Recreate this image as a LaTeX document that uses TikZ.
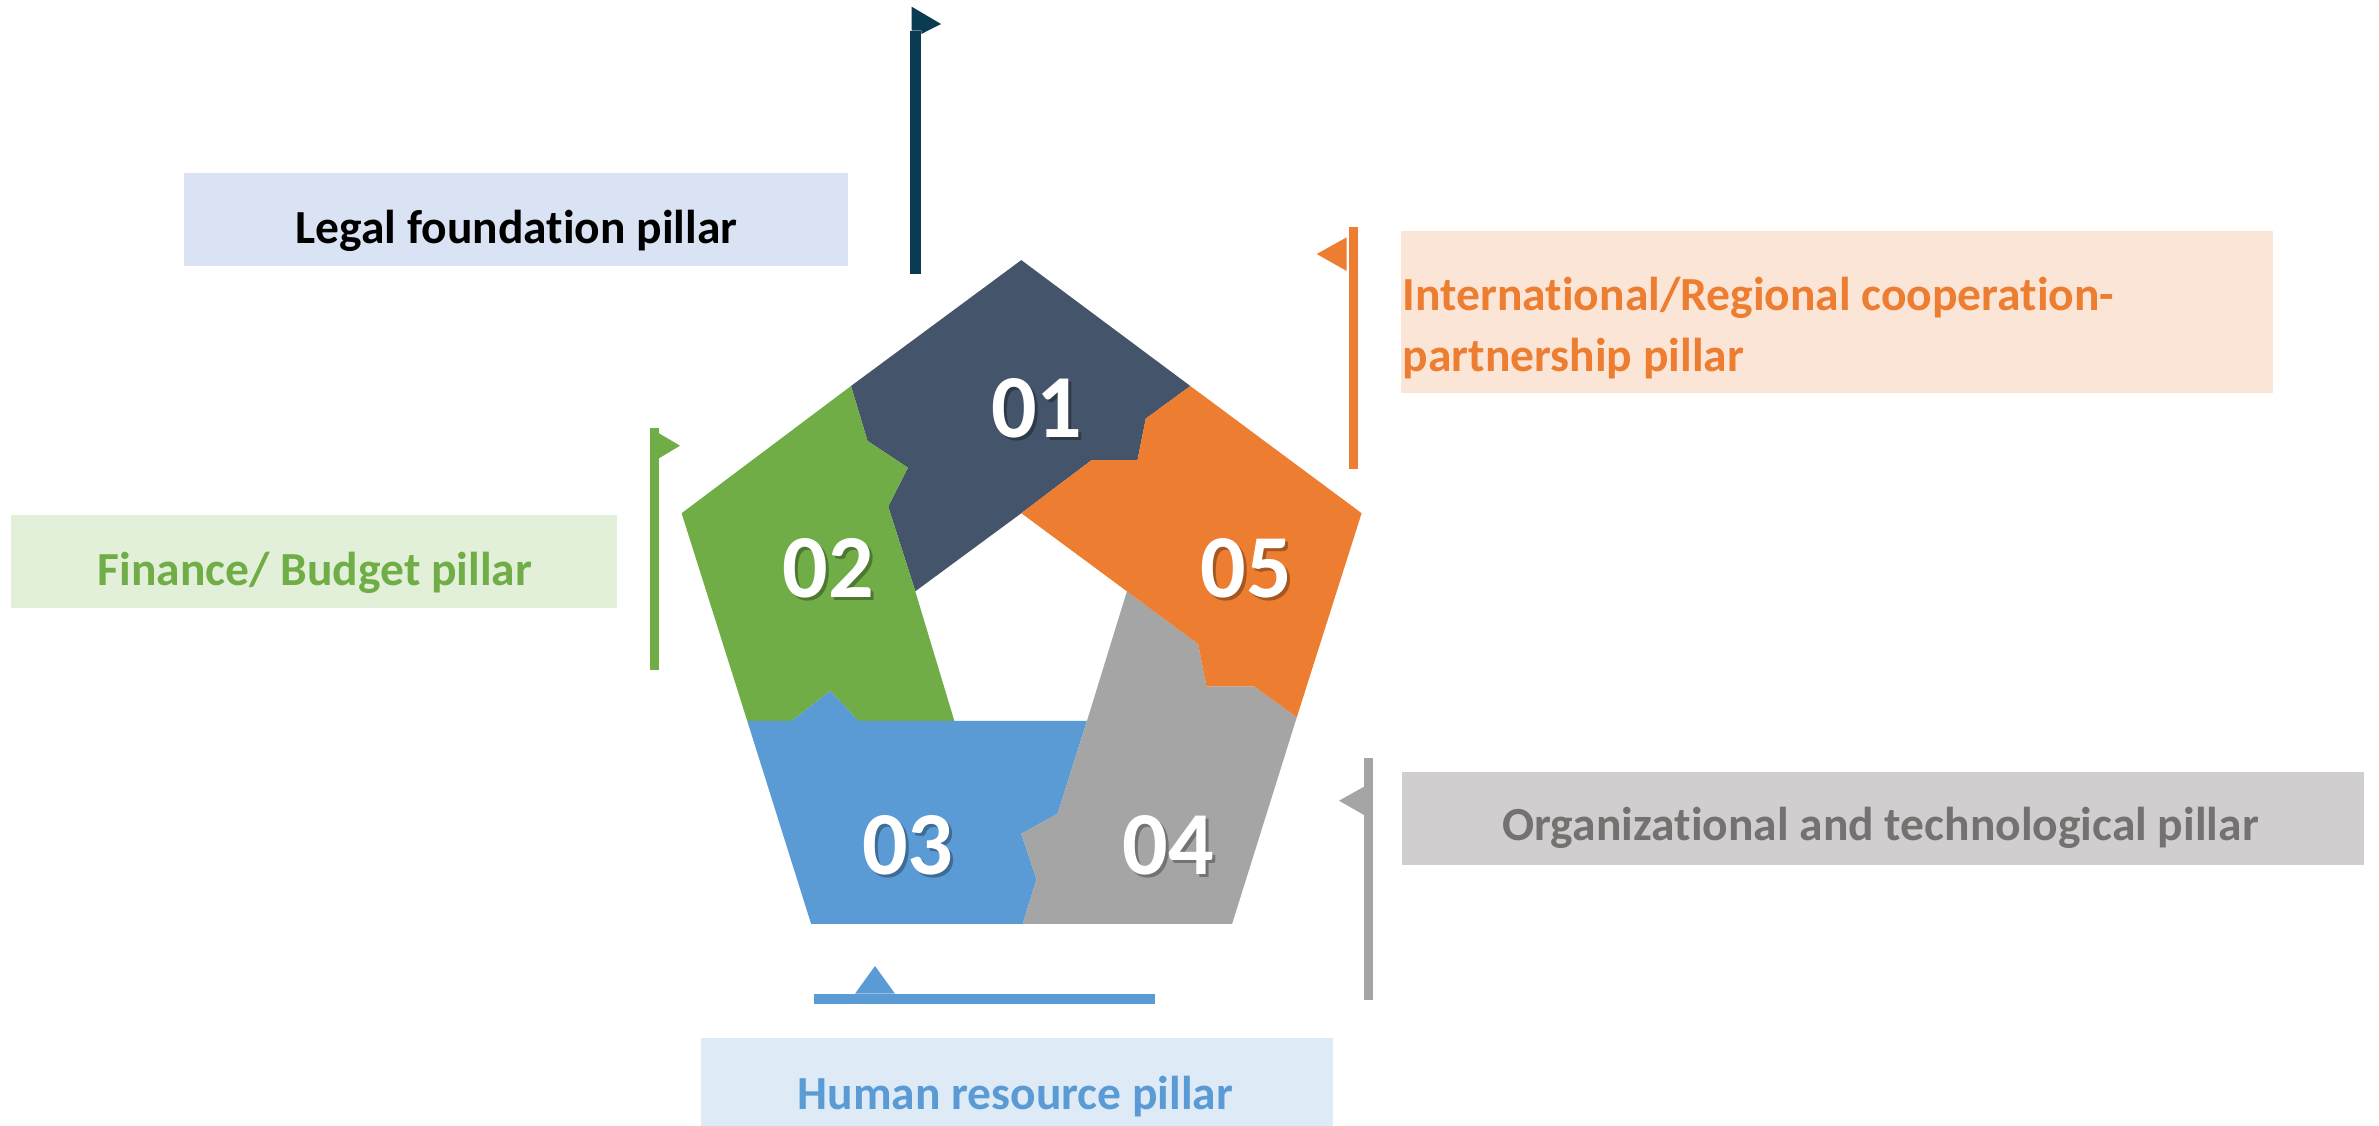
\documentclass[tikz,border=0pt]{standalone}
\usepackage{fontspec}
\setmainfont[Ligatures={NoCommon}]{Carlito}
\definecolor{cdark}{HTML}{44546A}
\definecolor{cgreen}{HTML}{70AD47}
\definecolor{cblue}{HTML}{5B9BD5}
\definecolor{cgray}{HTML}{A5A5A5}
\definecolor{corange}{HTML}{ED7D31}
\definecolor{cflag}{HTML}{0B3A53}
\definecolor{flegal}{HTML}{DAE3F3}
\definecolor{fintl}{HTML}{FBE5D6}
\definecolor{ffin}{HTML}{E2F0D9}
\definecolor{forg}{HTML}{D0CECE}
\definecolor{fhum}{HTML}{DEEBF7}
\definecolor{torg}{HTML}{767171}
\begin{document}
\begin{tikzpicture}[x=1pt,y=-1pt,
  lbl/.style={font=\fontsize{47.5}{57}\selectfont\bfseries, inner sep=0pt, anchor=base},
  lblw/.style={font=\fontsize{47.5}{57}\selectfont\bfseries, inner sep=0pt, anchor=base west},
  num/.style={font=\fontsize{90}{100}\selectfont\bfseries, inner sep=0pt, text=white},
  numsh/.style={font=\fontsize{90}{100}\selectfont\bfseries, inner sep=0pt, text=black, opacity=0.3},
  boxn/.style={inner sep=0pt, anchor=north west, draw=none}]
\useasboundingbox (0,0) rectangle (2379,1126);

% ---- label boxes
\node[boxn, fill=flegal, minimum width=664.3pt, minimum height=93.3pt] (legalbox) at (183.4,172.7) {};
\node[boxn, fill=fintl, minimum width=872pt, minimum height=161.7pt] (intlbox) at (1400.3,231) {};
\node[boxn, fill=ffin, minimum width=606pt, minimum height=92.3pt] (finbox) at (10.8,515) {};
\node[boxn, fill=forg, minimum width=962pt, minimum height=92.6pt] (orgbox) at (1401.3,771.7) {};
\node[boxn, fill=fhum, minimum width=631.4pt, minimum height=90pt] (humbox) at (701.2,1037.3) {};

\node[lbl, text=black] (legal) at (516.5,243.3) {Legal foundation pillar};
\node[lblw, text=corange] (intl1) at (1402.6,310.7) {International/Regional cooperation-};
\node[lblw, text=corange] (intl2) at (1402.6,371.7) {partnership pillar};
\node[lbl, text=cgreen] (fin) at (315,585) {Finance/ Budget pillar};
\node[lbl, text=torg] (org) at (1880.5,840) {Organizational and technological pillar};
\node[lbl, text=cblue] (hum) at (1015.5,1109) {Human resource pillar};

% ---- flags
\fill[cflag] (910,30.7) rectangle (921.3,274);
\fill[cflag] (911.7,6.7) -- (941,24) -- (921.3,34) -- (921.3,30.7) -- (911.7,30.7) -- cycle;
\fill[cgreen] (650,427.7) rectangle (659,670);
\fill[cgreen] (659,433.3) -- (680,445.7) -- (659,458.3) -- cycle;
\fill[corange] (1349,226.7) rectangle (1358,468.7);
\fill[corange] (1346.7,237.3) -- (1316.7,254) -- (1346.7,271) -- cycle;
\fill[cgray] (1364,757.7) rectangle (1373,1000);
\fill[cgray] (1364,786.7) -- (1339,800.7) -- (1364,815) -- cycle;
\fill[cblue] (814,993.7) rectangle (1155,1004);
\fill[cblue] (855,993.7) -- (875,966) -- (895,993.7) -- cycle;

% ---- pentagon pieces
% 01
\fill[cdark] (1021.3,260.1) -- (1190.3,386.0) -- (1145.8,418.6) -- (1137.5,460.1)
  -- (1091.6,460.1) -- (1021.3,513.2) -- (915.3,591.3) -- (888.2,506.5)
  -- (907.9,467.7) -- (867.5,440.9) -- (851.0,386.0) -- cycle;
% 02
\fill[cgreen] (851.0,386.0) -- (867.5,440.9) -- (907.9,467.7) -- (888.2,506.5)
  -- (915.3,591.3) -- (954.3,720.8) -- (858.3,720.8) -- (830.3,690.9)
  -- (791.8,720.8) -- (747.2,720.8) -- (681.6,513.2) -- cycle;
% 03
\fill[cblue] (747.2,720.8) -- (791.8,720.8) -- (830.3,690.9) -- (858.3,720.8)
  -- (1087.0,720.8) -- (1057.6,813.7) -- (1021.3,833.8) -- (1036.5,879.3)
  -- (1022.7,923.9) -- (811.1,923.9) -- cycle;
% 04
\fill[cgray] (1126.9,591.3) -- (1087.0,720.8) -- (1057.6,813.7) -- (1021.3,833.8)
  -- (1036.5,879.3) -- (1022.7,923.9) -- (1232.1,923.9) -- (1296.8,717.2)
  -- (1254.1,686.4) -- (1206.4,686.4) -- (1198.1,644.0) -- cycle;
% 05
\fill[corange] (1190.3,386.0) -- (1361.6,513.2) -- (1296.8,717.2) -- (1254.1,686.4)
  -- (1206.4,686.4) -- (1198.1,644.0) -- (1126.9,591.3) -- (1021.3,513.2)
  -- (1091.6,460.1) -- (1137.5,460.1) -- (1145.8,418.6) -- cycle;

% ---- numbers
\foreach \t/\x/\y/\n in {01/1036.7/408/n1, 02/828.3/568/n2, 05/1246.1/568/n5, 03/907.9/845/n3, 04/1168/845/n4}{
  \node[numsh] at (\x+3,\y+3) {\t};
  \node[num] (\n) at (\x,\y) {\t};
}
\end{tikzpicture}
\end{document}
